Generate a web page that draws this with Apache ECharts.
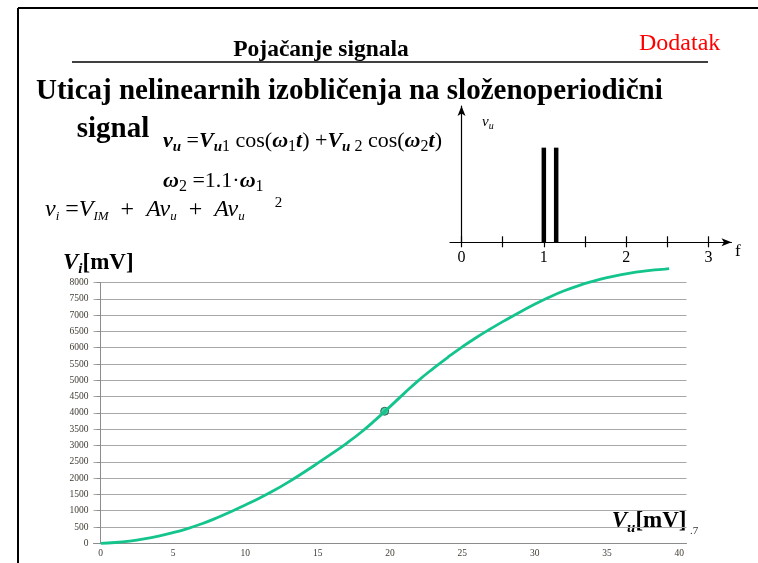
<!DOCTYPE html>
<html><head><meta charset="utf-8">
<script src="https://cdn.jsdelivr.net/npm/echarts@6/dist/echarts.min.js"></script>
<style>html,body{margin:0;padding:0;background:#fff}#c{width:758px;height:563px}</style>
</head><body><div id="c"></div><script>
// ---- data ----
const categories = ['0','1','2','3','4','5','6','7','8','9','10','11','12','13','14','15','16','17','18','19','20',
  '21','22','23','24','25','26','27','28','29','30','31','32','33','34','35','36','37','38','39','40'];
const curveX = [0,1,2,3,4,5,6,7,8,9,10,11,12,13,14,15,16,17,18,19,20,21,22,23,24,25,26,27,28,29,30,31,32,33,34,35,36,37,38,39,39.3];
const curveY = [0,25,70,135,220,325,450,600,775,970,1175,1390,1625,1885,2165,2457,2757,3067,3407,3787,4192,
  4607,5007,5367,5707,6027,6322,6592,6850,7098,7333,7548,7738,7898,8033,8148,8243,8318,8373,8413,8425];
const markerPoint = [19.63, 4050];
const yMin = 0, yMax = 8000, yStep = 500;
const spectrumF = [1, 1.15];
const spectrumAmp = [1, 1];
const spectrumTicks = [0, 0.5, 1, 1.5, 2, 2.5, 3];
const spectrumLabels = [0, 1, 2, 3];

// ---- chart ----
const SERIF = '"Liberation Serif","Times New Roman",serif';
const TEAL = '#14c48d';
const chart = echarts.init(document.getElementById('c'), null, {renderer: 'canvas'});

function rt(text, x, y, rich) {
  return {type: 'text', x: x, y: y, style: {text: text, rich: rich, textVerticalAlign: 'middle', fill: '#000'}};
}
const richF = {
  b: {fontFamily: SERIF, fontSize: 22, fontWeight: 'bold', fontStyle: 'italic', lineHeight: 26, color: '#000'},
  r: {fontFamily: SERIF, fontSize: 22, lineHeight: 26, color: '#000'},
  sbi: {fontFamily: SERIF, fontSize: 15, fontWeight: 'bold', fontStyle: 'italic', lineHeight: 13, verticalAlign: 'bottom', color: '#000'},
  sr: {fontFamily: SERIF, fontSize: 16, lineHeight: 13, verticalAlign: 'bottom', color: '#000'}
};
const richI = {
  i: {fontFamily: SERIF, fontSize: 24, fontStyle: 'italic', lineHeight: 28, color: '#000'},
  r: {fontFamily: SERIF, fontSize: 24, lineHeight: 28, color: '#000'},
  si: {fontFamily: SERIF, fontSize: 13, fontStyle: 'italic', lineHeight: 13, verticalAlign: 'bottom', color: '#000'},
  sup: {fontFamily: SERIF, fontSize: 15, lineHeight: 13, verticalAlign: 'top', color: '#000'}
};
const richAx = {
  b: {fontFamily: SERIF, fontSize: 23, fontWeight: 'bold', fontStyle: 'italic', lineHeight: 28, color: '#000'},
  n: {fontFamily: SERIF, fontSize: 23, fontWeight: 'bold', lineHeight: 28, color: '#000'},
  s: {fontFamily: SERIF, fontSize: 15, fontWeight: 'bold', fontStyle: 'italic', lineHeight: 14, verticalAlign: 'bottom', color: '#000'}
};
const richV = {
  i: {fontFamily: SERIF, fontSize: 15, fontStyle: 'italic', lineHeight: 18, color: '#000'},
  s: {fontFamily: SERIF, fontSize: 10, fontStyle: 'italic', lineHeight: 10, verticalAlign: 'bottom', color: '#000'}
};

const option = {
  animation: false,
  backgroundColor: '#fff',
  grid: [
    {left: 93.5, top: 282.5, width: 593, height: 260.8, containLabel: false},
    {left: 450, top: 106, width: 281.5, height: 136.3, containLabel: false}
  ],
  xAxis: [
    {type: 'category', gridIndex: 0, data: categories, boundaryGap: true,
     axisLine: {lineStyle: {color: '#8c8c8c'}},
     axisTick: {interval: 0, length: 4, lineStyle: {color: '#8c8c8c'}},
     axisLabel: {interval: 4, fontFamily: SERIF, fontSize: 9.5, color: '#403b33', margin: 5},
     splitLine: {show: false}},
    {type: 'value', gridIndex: 0, min: -0.5, max: 40.5, show: false},
    {type: 'value', gridIndex: 1, min: -0.14, max: 3.28, position: 'bottom',
     axisLine: {show: true, symbol: ['none', 'arrow'], symbolSize: [6, 10], lineStyle: {color: '#000', width: 1.2}},
     axisTick: {show: true, customValues: spectrumTicks, length: 5, lineStyle: {color: '#000', width: 1.2}},
     axisLabel: {customValues: spectrumLabels, fontFamily: SERIF, fontSize: 16, color: '#000', margin: 7},
     splitLine: {show: false}},
    {type: 'value', gridIndex: 1, min: -0.14, max: 3.28, position: 'bottom',
     axisLine: {show: false},
     axisTick: {show: true, inside: true, customValues: spectrumTicks, length: 6, lineStyle: {color: '#000', width: 1.2}},
     axisLabel: {show: false},
     splitLine: {show: false}}
  ],
  yAxis: [
    {type: 'value', gridIndex: 0, min: yMin, max: yMax, interval: yStep,
     axisLine: {show: true, lineStyle: {color: '#8c8c8c'}},
     axisTick: {show: true, length: 4, lineStyle: {color: '#8c8c8c'}},
     axisLabel: {fontFamily: SERIF, fontSize: 9.5, color: '#403b33', margin: 5, formatter: v => String(v)},
     splitLine: {show: true, lineStyle: {color: '#a8a8a8', width: 1}}},
    {type: 'value', gridIndex: 1, min: 0, max: 1.44,
     axisLine: {show: true, onZero: true, symbol: ['none', 'arrow'], symbolSize: [6, 10], lineStyle: {color: '#000', width: 1.2}},
     axisTick: {show: false}, axisLabel: {show: false}, splitLine: {show: false}}
  ],
  series: [
    {type: 'line', xAxisIndex: 1, yAxisIndex: 0, smooth: true, clip: false, showSymbol: false,
     lineStyle: {color: TEAL, width: 2.8},
     data: curveX.map((x, i) => [x, curveY[i]])},
    {type: 'scatter', xAxisIndex: 1, yAxisIndex: 0, symbolSize: 8,
     itemStyle: {color: TEAL, borderColor: '#1c4a38', borderWidth: 1},
     data: [markerPoint]},
    {type: 'bar', xAxisIndex: 2, yAxisIndex: 1, barWidth: 4.5,
     itemStyle: {color: '#000'},
     data: spectrumF.map((f, i) => [f, spectrumAmp[i]])}
  ],
  graphic: [
    {type: 'line', shape: {x1: 18, y1: 8, x2: 758, y2: 8}, style: {stroke: '#000', lineWidth: 2}},
    {type: 'line', shape: {x1: 18, y1: 8, x2: 18, y2: 563}, style: {stroke: '#000', lineWidth: 2}},
    {type: 'line', shape: {x1: 72, y1: 62, x2: 708, y2: 62}, style: {stroke: '#000', lineWidth: 1.5}},
    {type: 'text', x: 321, y: 50.2, style: {text: 'Pojačanje signala', font: 'bold 23.5px ' + SERIF, fill: '#000', textAlign: 'center', textVerticalAlign: 'middle'}},
    {type: 'text', x: 639, y: 43.8, style: {text: 'Dodatak', font: '24px ' + SERIF, fill: '#ff0000', textAlign: 'left', textVerticalAlign: 'middle'}},
    {type: 'text', x: 36, y: 91.3, style: {text: 'Uticaj nelinearnih izobličenja na složenoperiodični', font: 'bold 29px ' + SERIF, fill: '#000', textAlign: 'left', textVerticalAlign: 'middle'}},
    {type: 'text', x: 76.7, y: 129.8, style: {text: 'signal', font: 'bold 29px ' + SERIF, fill: '#000', textAlign: 'left', textVerticalAlign: 'middle'}},
    rt('{b|v}{sbi|u}{r| =}{b|V}{sbi|u}{sr|1}{r| cos(}{b|ω}{sr|1}{b|t}{r|) +}{b|V}{sbi|u}{sr| 2}{r| cos(}{b|ω}{sr|2}{b|t}{r|)}', 163, 141.7, richF),
    rt('{b|ω}{sr|2}{r| =1.1·}{b|ω}{sr|1}', 163, 181.4, richF),
    rt('{i|v}{si|i}{r| =}{i|V}{si|IM}{r|  +  }{i|Av}{si|u}{r|  +  }{i|Av}{si|u}{sup|        2}', 45, 209.5, richI),
    rt('{b|V}{s|i}{n|[mV]}', 63, 263, richAx),
    rt('{b|V}{s|u}{n|[mV]}', 611.7, 521.4, richAx),
    {type: 'text', x: 690, y: 531, style: {text: '.7', font: '11px ' + SERIF, fill: '#333', textVerticalAlign: 'middle'}},
    rt('{i|v}{s|u}', 482, 122, richV),
    {type: 'text', x: 735, y: 252, style: {text: 'f', font: '17px ' + SERIF, fill: '#000', textVerticalAlign: 'middle'}}
  ]
};
chart.setOption(option);
</script></body></html>
